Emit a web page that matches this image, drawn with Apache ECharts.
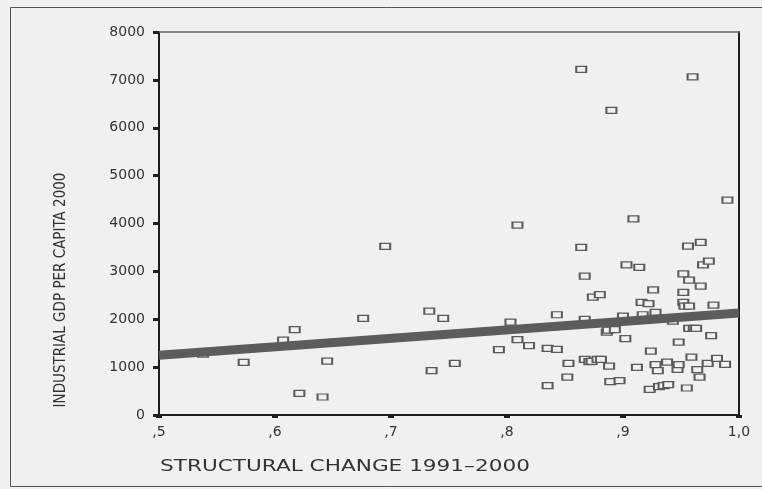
<!DOCTYPE html>
<html>
<head>
<meta charset="utf-8">
<script src="https://cdn.jsdelivr.net/npm/echarts@6/dist/echarts.min.js"></script>
<style>
html,body{margin:0;padding:0;background:#f0f0f0;}
#chart{width:762px;height:489px;}
</style>
</head>
<body>
<div id="chart"></div>
<script>
// Structural change 1991-2000 (x) vs industrial GDP per capita 2000 (y)
const structuralChange = [
  0.538, 0.573, 0.607, 0.617, 0.621, 0.641, 0.645, 0.676, 0.695, 0.733,
  0.735, 0.745, 0.755, 0.793, 0.803, 0.809, 0.809, 0.819, 0.835, 0.835,
  0.843, 0.843, 0.852, 0.853, 0.864, 0.864, 0.867, 0.867, 0.867, 0.871,
  0.874, 0.873, 0.878, 0.880, 0.881, 0.886, 0.887, 0.888, 0.889, 0.890,
  0.893, 0.897, 0.900, 0.902, 0.903, 0.909, 0.912, 0.914, 0.916, 0.917,
  0.922, 0.923, 0.924, 0.926, 0.928, 0.928, 0.930, 0.931, 0.935, 0.938,
  0.939, 0.943, 0.947, 0.948, 0.948, 0.952, 0.952, 0.952, 0.953, 0.955,
  0.956, 0.957, 0.957, 0.957, 0.959, 0.960, 0.961, 0.963, 0.964, 0.966,
  0.967, 0.967, 0.969, 0.973, 0.974, 0.976, 0.978, 0.981, 0.988, 0.990
];
const industrialGdp = [
  1270, 1100, 1566, 1781, 453, 376, 1127, 2018, 3521, 2171,
  925, 2018, 1079, 1364, 1942, 1572, 3967, 1447, 1392, 612,
  1371, 2094, 793, 1079, 7217, 3501, 1997, 2902, 1162, 1113,
  2463, 1121, 1162, 2512, 1162, 1733, 1775, 1023, 695, 6361,
  1781, 716, 2067, 1593, 3138, 4098, 996, 3083, 2353, 2094,
  2324, 537, 1336, 2616, 1051, 2144, 925, 591, 612, 1106,
  633, 1962, 954, 1051, 1524, 2561, 2950, 2353, 2276, 564,
  3528, 2818, 2276, 1809, 1211, 7063, 1809, 1809, 946, 793,
  3605, 2693, 3138, 1079, 3215, 1656, 2296, 1184, 1058, 4489
];
// Fit line endpoints
const fitX = [0.5, 1.0];
const fitY = [1250, 2130];

const xTicks = [0.5, 0.6, 0.7, 0.8, 0.9, 1.0];
const yTicks = [0, 1000, 2000, 3000, 4000, 5000, 6000, 7000, 8000];

const points = structuralChange.map((x, i) => [x, industrialGdp[i]]);
const fitLine = fitX.map((x, i) => [x, fitY[i]]);

const chart = echarts.init(document.getElementById('chart'));
const labelFont = "'DejaVu Sans', sans-serif";
chart.setOption({
  backgroundColor: '#f0f0f0',
  animation: false,
  grid: {left: 159, right: 23, top: 32, bottom: 74, show: false},
  xAxis: [{
    type: 'value', min: xTicks[0], max: xTicks[xTicks.length - 1], interval: 0.1,
    axisLine: {show: true, onZero: false, lineStyle: {color: '#1e1e1e', width: 2}},
    axisTick: {show: true, inside: false, length: 3, lineStyle: {color: '#1e1e1e', width: 6}},
    axisLabel: {
      margin: 10, color: '#333', fontFamily: labelFont, fontSize: 14,
      formatter: v => {
        const r = Math.round(v * 10);
        return r >= 10 ? '1,0' : ',' + r;
      }
    },
    splitLine: {show: false}
  }, {
    type: 'value', position: 'top', min: xTicks[0], max: xTicks[xTicks.length - 1],
    axisLine: {show: true, onZero: false, lineStyle: {color: '#666', width: 1.5}},
    axisTick: {show: false}, axisLabel: {show: false}, splitLine: {show: false}
  }],
  yAxis: [{
    type: 'value', min: yTicks[0], max: yTicks[yTicks.length - 1], interval: 1000,
    axisLine: {show: true, onZero: false, lineStyle: {color: '#1e1e1e', width: 2}},
    axisTick: {show: true, inside: false, length: 6, lineStyle: {color: '#1e1e1e', width: 3}},
    axisLabel: {margin: 14, color: '#333', fontFamily: labelFont, fontSize: 14,
      formatter: v => String(v)},
    splitLine: {show: false}
  }, {
    type: 'value', position: 'right', min: yTicks[0], max: yTicks[yTicks.length - 1],
    axisLine: {show: true, onZero: false, lineStyle: {color: '#1e1e1e', width: 2}},
    axisTick: {show: false}, axisLabel: {show: false}, splitLine: {show: false}
  }],
  graphic: [
    {type: 'rect', shape: {x: 10.5, y: 7.5, width: 800, height: 479},
     style: {fill: 'none', stroke: '#555', lineWidth: 1}, silent: true},
    {type: 'text', x: 61, y: 290, rotation: Math.PI / 2,
     style: {text: 'INDUSTRIAL GDP PER CAPITA 2000', fill: '#333',
       font: "15px 'Liberation Sans Narrow', 'DejaVu Sans Condensed', sans-serif",
       align: 'center', verticalAlign: 'middle'}},
    {type: 'text', x: 160, y: 467, scaleX: 1.35,
     style: {text: 'STRUCTURAL CHANGE 1991\u20132000', fill: '#333',
       font: "16px 'DejaVu Sans', sans-serif",
       align: 'left', verticalAlign: 'middle'}}
  ],
  series: [{
    type: 'scatter', data: points, symbol: 'rect', symbolSize: [10, 6],
    itemStyle: {color: '#f0f0f0', borderColor: '#5a5a5a', borderWidth: 1.6, opacity: 1},
    z: 2
  }, {
    type: 'line', data: fitLine, showSymbol: false, symbol: 'none',
    lineStyle: {color: '#5c5c5c', width: 9}, z: 3
  }]
});
</script>
</body>
</html>
